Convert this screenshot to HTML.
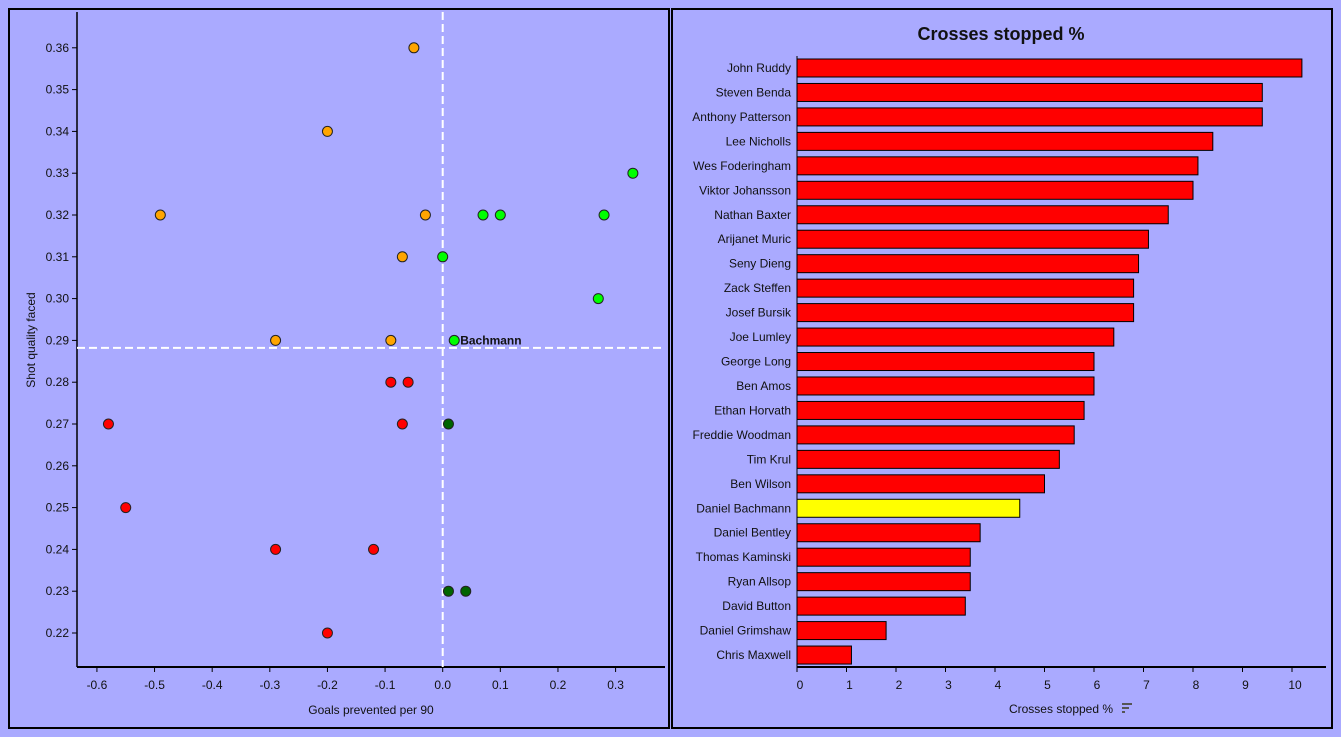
<!DOCTYPE html>
<html><head><meta charset="utf-8"><style>
html,body{margin:0;padding:0;background:#aaaaff;}
svg{display:block;font-family:"Liberation Sans",sans-serif;}
text{fill:#111;}
</style></head><body>
<svg id="s" width="1341" height="737" viewBox="0 0 1341 737">
<rect x="0" y="0" width="1341" height="737" fill="#aaaaff"/>
<rect x="9" y="9" width="660" height="719" fill="#aaaaff" stroke="#000" stroke-width="2"/>
<rect x="672" y="9" width="660" height="719" fill="#aaaaff" stroke="#000" stroke-width="2"/>
<g id="sc"></g>
<g id="bc"></g>
</svg>
<script>
const NS='http://www.w3.org/2000/svg';
function mk(p,t,a){const e=document.createElementNS(NS,t);for(const k in a)e.setAttribute(k,a[k]);p.appendChild(e);return e;}

const xTicks=[-0.6,-0.5,-0.4,-0.3,-0.2,-0.1,0.0,0.1,0.2,0.3];
const yTicks=[0.22,0.23,0.24,0.25,0.26,0.27,0.28,0.29,0.30,0.31,0.32,0.33,0.34,0.35,0.36];
const ptX=[-0.05,-0.2,-0.49,-0.03,-0.07,-0.29,-0.09, 0.33,0.07,0.10,0.28,0.0,0.27,0.02, -0.09,-0.06,-0.58,-0.07,-0.55,-0.29,-0.12,-0.2, 0.01,0.01,0.04];
const ptY=[0.36,0.34,0.32,0.32,0.31,0.29,0.29, 0.33,0.32,0.32,0.32,0.31,0.30,0.29, 0.28,0.28,0.27,0.27,0.25,0.24,0.24,0.22, 0.27,0.23,0.23];
const ptGroup=['o','o','o','o','o','o','o','g','g','g','g','g','g','b','r','r','r','r','r','r','r','r','d','d','d'];
const avgX=0.0, avgY=0.2882;

const names=['John Ruddy','Steven Benda','Anthony Patterson','Lee Nicholls','Wes Foderingham','Viktor Johansson','Nathan Baxter','Arijanet Muric','Seny Dieng','Zack Steffen','Josef Bursik','Joe Lumley','George Long','Ben Amos','Ethan Horvath','Freddie Woodman','Tim Krul','Ben Wilson','Daniel Bachmann','Daniel Bentley','Thomas Kaminski','Ryan Allsop','David Button','Daniel Grimshaw','Chris Maxwell'];
const values=[10.2,9.4,9.4,8.4,8.1,8.0,7.5,7.1,6.9,6.8,6.8,6.4,6.0,6.0,5.8,5.6,5.3,5.0,4.5,3.7,3.5,3.5,3.4,1.8,1.1];
const barTicks=[0,1,2,3,4,5,6,7,8,9,10];

// scatter
const sc=document.getElementById('sc');
const X=v=>442.7+v*576.3, Y=v=>633-(v-0.22)*4180;
mk(sc,'line',{x1:77,y1:12,x2:77,y2:667,stroke:'#000','stroke-width':1.5,});
mk(sc,'line',{x1:77,y1:667,x2:665,y2:667,stroke:'#000','stroke-width':2,});
xTicks.forEach(t=>{mk(sc,'line',{x1:X(t),y1:667,x2:X(t),y2:672,stroke:'#000'});
 const e=mk(sc,'text',{x:X(t),y:689,'text-anchor':'middle','font-size':12});e.textContent=t.toFixed(1);
 });
yTicks.forEach(t=>{mk(sc,'line',{x1:72,y1:Y(t),x2:77,y2:Y(t),stroke:'#000'});
 const e=mk(sc,'text',{x:69,y:Y(t)+4,'text-anchor':'end','font-size':12});e.textContent=t.toFixed(2);
 });
let e=mk(sc,'text',{x:371,y:714,'text-anchor':'middle','font-size':12});e.textContent='Goals prevented per 90';

e=mk(sc,'text',{x:0,y:0,'text-anchor':'middle','font-size':12,transform:'translate(35,340) rotate(-90)'});e.textContent='Shot quality faced';

e=mk(sc,'line',{x1:X(avgX),y1:12,x2:X(avgX),y2:667,stroke:'#fff','stroke-width':2,'stroke-dasharray':'8,4'});

e=mk(sc,'line',{x1:77,y1:Y(avgY),x2:662,y2:Y(avgY),stroke:'#fff','stroke-width':2,'stroke-dasharray':'8,4'});

const col={o:'#ffa500',g:'#00ff00',b:'#00ff00',r:'#ff0000',d:'#006400'};
ptX.forEach((v,i)=>{const c=mk(sc,'circle',{cx:X(v),cy:Y(ptY[i]),r:5,fill:col[ptGroup[i]],stroke:'#222','stroke-width':1});
 
 if(ptGroup[i]==='b'){const t=mk(sc,'text',{x:X(v)+6,y:Y(ptY[i])+4,'font-size':12,'font-weight':'bold'});t.textContent='Bachmann';
  }});

// bars
const bc=document.getElementById('bc');
const BX=v=>797+v*49.5, BY=i=>68+i*24.46;
e=mk(bc,'text',{x:1001,y:40,'text-anchor':'middle','font-size':18,'font-weight':'bold'});e.textContent='Crosses stopped %';

names.forEach((n,i)=>{const r=mk(bc,'rect',{x:BX(0),y:BY(i)-9,width:BX(values[i])-BX(0),height:18,fill:n==='Daniel Bachmann'?'#ffff00':'#ff0000',stroke:'#000','stroke-width':1});
 
 const t=mk(bc,'text',{x:791,y:BY(i)+4,'text-anchor':'end','font-size':12});t.textContent=n;
 });
mk(bc,'line',{x1:797,y1:56,x2:797,y2:672,stroke:'#000','stroke-width':1});
e=mk(bc,'line',{x1:797,y1:667,x2:1326,y2:667,stroke:'#000','stroke-width':2});

barTicks.forEach(t=>{mk(bc,'line',{x1:BX(t),y1:667,x2:BX(t),y2:672,stroke:'#000'});
 const x=mk(bc,'text',{x:BX(t)+3,y:689,'text-anchor':'middle','font-size':12});x.textContent=t;
 });
e=mk(bc,'text',{x:1061,y:713,'text-anchor':'middle','font-size':12});e.textContent='Crosses stopped %';

const g=mk(bc,'g',{fill:'#555'});

mk(g,'rect',{x:1122,y:703,width:10,height:2});mk(g,'rect',{x:1122,y:707,width:7,height:2});mk(g,'rect',{x:1122,y:711,width:3,height:2});
</script>
</body></html>
